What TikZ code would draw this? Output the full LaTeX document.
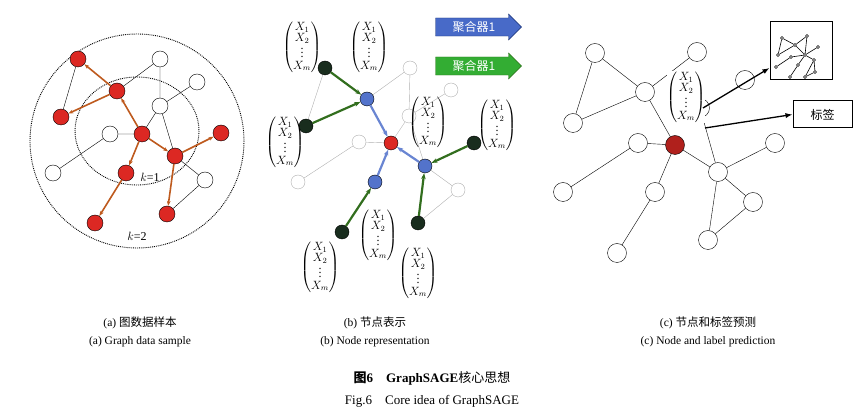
\documentclass[tikz,border=0pt]{standalone}
\usepackage{amsmath}
\usepackage{fontspec}
\setmainfont{Liberation Serif}
\newfontfamily\cjk{Noto Sans CJK SC}
\usetikzlibrary{arrows.meta,shapes.arrows}
\definecolor{nred}{RGB}{220,40,35}
\definecolor{ored}{RGB}{190,90,30}
\definecolor{nblue}{RGB}{40,80,190}
\definecolor{dgreen}{RGB}{25,45,30}
\definecolor{agreen}{RGB}{50,110,30}
\definecolor{lgray}{RGB}{175,175,175}
\tikzset{
  wn/.style={circle,draw=black,fill=white,inner sep=0pt,minimum size=16pt},
  rn/.style={circle,draw=black,fill=nred,inner sep=0pt,minimum size=16pt},
  gn/.style={circle,draw=lgray,fill=white,inner sep=0pt,minimum size=14pt},
  bn/.style={circle,draw=black,fill=nblue!80,inner sep=0pt,minimum size=14pt},
  kn/.style={circle,draw=black,fill=dgreen,inner sep=0pt,minimum size=14pt},
  cn/.style={circle,draw=black,fill=white,inner sep=0pt,minimum size=19pt},
  crn/.style={circle,draw=black,fill=nred!80!black,inner sep=0pt,minimum size=19pt},
  oarr/.style={ored,line width=1.6pt,-{Stealth[length=5pt]}},
  barr/.style={nblue!70,line width=2.2pt,-{Stealth[length=6pt]}},
  garr/.style={agreen,line width=2.2pt,-{Stealth[length=6pt]}},
  vecbox/.style={inner sep=0pt,font=\large},
  captxt/.style={font=\fontsize{11.5}{13}\selectfont},
  sm/.style={circle,draw=black,fill=white,inner sep=0pt,minimum size=3pt,line width=0.6pt}
}
\newcommand{\xvec}{$\begin{pmatrix}X_1\\[-3pt]X_2\\[-4pt]\vdots\\[-2pt]X_m\end{pmatrix}$}
\begin{document}
\begin{tikzpicture}[x=1pt,y=-1pt]
\useasboundingbox (0,0) rectangle (865,419);
% ---------- (a)
\draw[densely dotted,line width=0.9pt] (137,141) ellipse (107 and 107);
\draw[densely dotted,line width=0.9pt] (137,131) ellipse (62 and 54);
\node[rn] (a1) at (78,59) {};
\node[rn] (a2) at (117,91) {};
\node[rn] (a3) at (61,117) {};
\node[rn] (ac) at (142,134) {};
\node[rn] (ad) at (175,156) {};
\node[rn] (ae) at (221,133) {};
\node[rn] (af) at (126,173) {};
\node[rn] (ag) at (167,214) {};
\node[rn] (ah) at (95,223) {};
\node[wn] (w1) at (160,59) {};
\node[wn] (w2) at (197,82) {};
\node[wn] (w3) at (160,106) {};
\node[wn] (w4) at (110,134) {};
\node[wn] (w5) at (53,173) {};
\node[wn] (w6) at (205,180) {};
\draw (a1)--(a3) (w1)--(a2) (w1)--(w3) (w3)--(w2) (w3)--(ac) (w3)--(ad) (w4)--(ac) (w4)--(w5) (ad)--(w6) (w6)--(ag);
\draw[oarr] (a2)--(a1); \draw[oarr] (a2)--(a3); \draw[oarr] (ac)--(a2);
\draw[oarr] (ac)--(ad); \draw[oarr] (ad)--(ae); \draw[oarr] (ac)--(af);
\draw[oarr] (af)--(ah); \draw[oarr] (ad)--(ag);
\node[font=\large] (k1) at (150,177) {$k$=1};
\node[font=\large] (k2) at (137,236) {$k$=2};
% ---------- (b)
\node[gn] (g1) at (410,68) {};
\node[gn] (g2) at (451,90) {};
\node[gn] (g3) at (409,116) {};
\node[gn] (g4) at (359,142) {};
\node[gn] (g5) at (298,182) {};
\node[gn] (g6) at (458,190) {};
\node[rn,minimum size=14pt] (r) at (391,143) {};
\node[bn] (b1) at (367,99) {};
\node[bn] (b2) at (425,166) {};
\node[bn] (b3) at (375,182) {};
\node[kn] (k1n) at (325,68) {};
\node[kn] (k2n) at (306,126) {};
\node[kn] (k3n) at (474,143) {};
\node[kn] (k4n) at (418,223) {};
\node[kn] (k5n) at (342,232) {};
\draw[lgray] (b1)--(g1) (g1)--(g3) (g3)--(g2) (g3)--(r) (g3)--(b2) (g4)--(r) (g4)--(g5) (b2)--(g6) (g6)--(k4n) (k1n)--(k2n);
\draw[barr] (b1)--(r); \draw[barr] (b2)--(r); \draw[barr] (b3)--(r);
\draw[garr] (k1n)--(b1); \draw[garr] (k2n)--(b1); \draw[garr] (k3n)--(b2);
\draw[garr] (k4n)--(b2); \draw[garr] (k5n)--(b3);
\node[vecbox] (v1) at (302,47) {\xvec};
\node[vecbox] (v2) at (369,47) {\xvec};
\node[vecbox] (v3) at (285,142) {\xvec};
\node[vecbox] (v4) at (428,122) {\xvec};
\node[vecbox] (v5) at (497,125) {\xvec};
\node[vecbox] (v6) at (378,235) {\xvec};
\node[vecbox] (v7) at (320,267) {\xvec};
\node[vecbox] (v8) at (418,273) {\xvec};
\node[single arrow,draw=nblue!60!black,fill=nblue!85,minimum width=26pt,single arrow head extend=3pt,minimum height=86pt,inner sep=1pt,text=white,font=\cjk\large] (ag1) at (474,27) {聚合器1\hspace{12pt}};
\node[single arrow,draw=agreen,fill=green!60!black!80,minimum width=26pt,single arrow head extend=3pt,minimum height=86pt,inner sep=1pt,text=white,font=\cjk\large] (ag2) at (474,66) {聚合器1\hspace{12pt}};
% ---------- (c)
\node[cn] (c1) at (595,53) {};
\node[cn] (c2) at (697,52) {};
\node[cn] (c3) at (645,92) {};
\node[cn] (c4) at (573,123) {};
\node[cn] (c5) at (638,143) {};
\node[crn] (cr) at (675,145) {};
\node[cn] (c6) at (775,143) {};
\node[cn] (c7) at (718,172) {};
\node[cn] (c8) at (563,192) {};
\node[cn] (c9) at (655,192) {};
\node[cn] (c10) at (753,202) {};
\node[cn] (c11) at (617,253) {};
\node[cn] (c12) at (708,240) {};
\node[cn] (c13) at (745,80) {};
\node[cn] (c14) at (700,108) {};
\draw (c1)--(c3) (c1)--(c4) (c4)--(c3) (c3)--(c2) (c3)--(cr) (c5)--(cr) (c5)--(c8) (cr)--(c9) (c9)--(c11) (cr)--(c7) (c7)--(c6) (c7)--(c10) (c7)--(c12) (c12)--(c10) (c14)--(c7);
\node[vecbox,fill=white] (vc) at (686,97) {\xvec};
\node[draw,line width=1pt,minimum width=62pt,minimum height=58pt] (gb) at (801,51) {};
\node[draw,line width=1pt,minimum width=59pt,minimum height=27pt,font=\cjk\large] (lb) at (822.5,114.5) {标签};
\coordinate (s1) at (703,108);
\coordinate (s2) at (705,128);
\draw[line width=1.3pt,-{Latex[length=7pt]}] (s1)--(gb.west|-0,68);
\draw[line width=1.3pt,-{Latex[length=7pt]}] (s2)--(lb.west);
% small graph in box
\begin{scope}[shift={(770,22)}]
\node[sm] (m1) at (12,16) {}; \node[sm] (m2) at (25,23) {}; \node[sm] (m3) at (37,14) {};
\node[sm] (m4) at (8,33) {}; \node[sm] (m5) at (35,33) {}; \node[sm] (m6) at (48,25) {};
\node[sm] (m7) at (21,35) {}; \node[sm] (m8) at (6,45) {}; \node[sm] (m9) at (28,43) {};
\node[sm] (m10) at (44,38) {}; \node[sm] (m11) at (45,50) {}; \node[sm] (m12) at (20,55) {};
\node[sm] (m13) at (35,55) {};
\draw[line width=0.6pt] (m1)--(m2)--(m3)--(m5) (m1)--(m4)--(m2) (m2)--(m5)--(m6) (m7)--(m5)--(m10)--(m11)--(m13)--(m10) (m8)--(m7) (m9)--(m5) (m9)--(m12);
\end{scope}
% ---------- captions
\node[captxt] (ca1) at (140,323) {(a) {\cjk 图数据样本}};
\node[captxt] (ca2) at (140,342) {(a) Graph data sample};
\node[captxt] (cb1) at (375,323) {(b) {\cjk 节点表示}};
\node[captxt] (cb2) at (375,342) {(b) Node representation};
\node[captxt] (cc1) at (708,323) {(c) {\cjk 节点和标签预测}};
\node[captxt] (cc2) at (708,342) {(c) Node and label prediction};
\node[captxt,font=\fontsize{13}{15}\selectfont] (t1) at (432,378) {{\cjk\bfseries 图}\textbf{6\quad GraphSAGE}{\cjk 核心思想}};
\node[captxt,font=\fontsize{13}{15}\selectfont] (t2) at (432,401) {Fig.6\quad Core idea of GraphSAGE};
\end{tikzpicture}
\end{document}
